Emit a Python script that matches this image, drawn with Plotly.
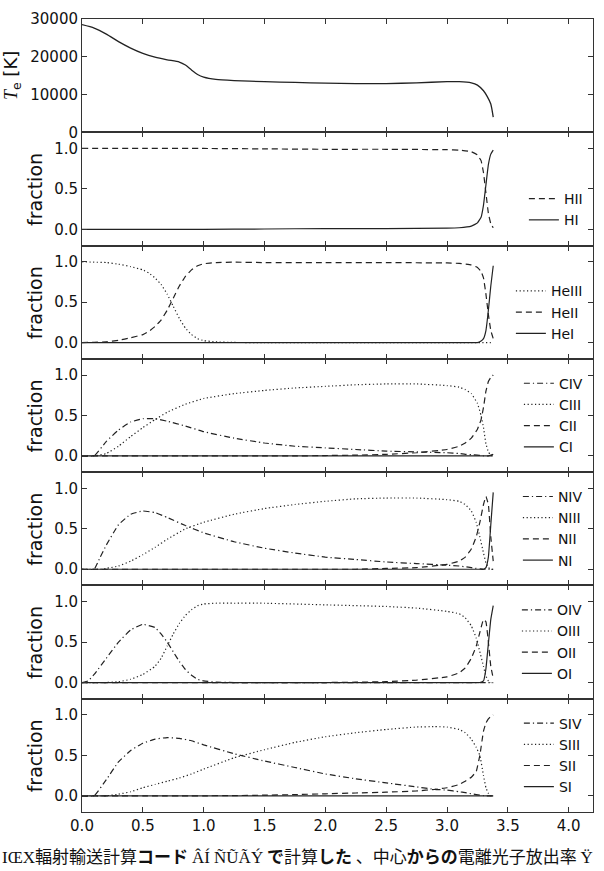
import plotly.graph_objects as go
from plotly.subplots import make_subplots

# ---------------- data ----------------
x_T = [0, 0.1, 0.2, 0.3, 0.4, 0.5, 0.6, 0.7, 0.8, 0.85, 0.9, 0.95, 1.0, 1.1, 1.25, 1.5, 1.75,
       2.0, 2.25, 2.5, 2.75, 3.0, 3.1, 3.2, 3.25, 3.3, 3.33, 3.36, 3.38]
T_e = [28500, 27600, 26000, 24000, 22300, 20900, 19900, 19200, 18600, 17800, 16500, 15300, 14600,
       14000, 13700, 13400, 13200, 13000, 12900, 12900, 13100, 13400, 13400, 13100, 12500, 11000,
       9500, 7500, 4000]

x_H = [0, 0.5, 1.0, 1.5, 2.0, 2.5, 3.0, 3.1, 3.2, 3.25, 3.28, 3.3, 3.32, 3.34, 3.36, 3.38]
HII = [1.0, 1.0, 1.0, 0.995, 0.99, 0.99, 0.985, 0.98, 0.96, 0.92, 0.85, 0.7, 0.45, 0.2, 0.07, 0.02]
HI = [0, 0, 0, 0.005, 0.01, 0.01, 0.015, 0.02, 0.04, 0.08, 0.15, 0.3, 0.55, 0.8, 0.93, 0.98]

x_He = [0, 0.1, 0.2, 0.3, 0.4, 0.5, 0.55, 0.6, 0.65, 0.7, 0.75, 0.8, 0.85, 0.9, 0.95, 1.0, 1.1,
        1.25, 1.5, 2.0, 2.5, 3.0, 3.1, 3.2, 3.25, 3.28, 3.3, 3.32, 3.34, 3.36, 3.38]
HeIII = [1.0, 0.995, 0.99, 0.97, 0.94, 0.9, 0.86, 0.8, 0.72, 0.6, 0.45, 0.3, 0.18, 0.1, 0.05, 0.025,
         0.01, 0.003, 0, 0, 0, 0, 0, 0, 0, 0, 0, 0, 0, 0, 0]
HeII = [0.0, 0.005, 0.01, 0.03, 0.06, 0.1, 0.14, 0.2, 0.28, 0.4, 0.55, 0.7, 0.82, 0.9, 0.95, 0.975,
        0.99, 0.995, 0.99, 0.99, 0.99, 0.985, 0.98, 0.96, 0.93, 0.88, 0.8, 0.6, 0.35, 0.15, 0.05]
HeI = [0, 0, 0, 0, 0, 0, 0, 0, 0, 0, 0, 0, 0, 0, 0, 0, 0, 0, 0, 0, 0, 0, 0, 0, 0, 0.02, 0.05,
       0.15, 0.4, 0.7, 0.95]

x_C = [0, 0.1, 0.2, 0.3, 0.4, 0.5, 0.6, 0.7, 0.85, 1.0, 1.25, 1.5, 1.75, 2.0, 2.25, 2.5, 2.75,
       3.0, 3.1, 3.15, 3.2, 3.25, 3.28, 3.3, 3.32, 3.34, 3.36, 3.38]
CIV = [0, 0.0, 0.18, 0.32, 0.42, 0.46, 0.46, 0.43, 0.37, 0.3, 0.22, 0.16, 0.12, 0.1, 0.08, 0.06,
       0.05, 0.04, 0.03, 0.02, 0.015, 0.01, 0.005, 0.002, 0, 0, 0, 0]
CIII = [0, 0, 0.03, 0.12, 0.24, 0.35, 0.45, 0.54, 0.64, 0.71, 0.77, 0.81, 0.84, 0.86, 0.88, 0.89,
        0.89, 0.87, 0.85, 0.82, 0.77, 0.65, 0.5, 0.35, 0.15, 0.05, 0.01, 0]
CII = [0, 0, 0, 0, 0, 0, 0, 0, 0, 0, 0, 0, 0, 0.005, 0.01, 0.02, 0.04, 0.08, 0.12, 0.16, 0.22,
       0.33, 0.45, 0.6, 0.8, 0.92, 0.97, 1.0]
CI = [0, 0, 0, 0, 0, 0, 0, 0, 0, 0, 0, 0, 0, 0, 0, 0, 0, 0, 0, 0, 0, 0, 0, 0, 0, 0, 0.01, 0.02]

x_N = [0, 0.1, 0.15, 0.2, 0.3, 0.4, 0.5, 0.6, 0.7, 0.85, 1.0, 1.25, 1.5, 1.75, 2.0, 2.25, 2.5,
       2.75, 3.0, 3.1, 3.15, 3.2, 3.24, 3.27, 3.3, 3.32, 3.34, 3.36, 3.38]
NIV = [0, 0.0, 0.15, 0.3, 0.55, 0.68, 0.72, 0.7, 0.64, 0.54, 0.45, 0.34, 0.26, 0.2, 0.15, 0.12,
       0.09, 0.07, 0.05, 0.04, 0.03, 0.02, 0.01, 0.005, 0, 0, 0, 0, 0]
NIII = [0, 0, 0, 0.01, 0.04, 0.1, 0.18, 0.27, 0.37, 0.5, 0.58, 0.68, 0.75, 0.8, 0.84, 0.87, 0.88,
        0.88, 0.86, 0.84, 0.8, 0.72, 0.58, 0.4, 0.2, 0.08, 0.02, 0, 0]
NII = [0, 0, 0, 0, 0, 0, 0, 0, 0, 0, 0, 0, 0, 0, 0, 0, 0.01, 0.02, 0.06, 0.1, 0.15, 0.25, 0.4,
       0.58, 0.8, 0.9, 0.8, 0.4, 0.1]
NI = [0, 0, 0, 0, 0, 0, 0, 0, 0, 0, 0, 0, 0, 0, 0, 0, 0, 0, 0, 0, 0, 0, 0, 0, 0, 0.02, 0.15,
      0.55, 0.95]

x_O = [0, 0.05, 0.1, 0.2, 0.3, 0.4, 0.5, 0.6, 0.65, 0.7, 0.75, 0.8, 0.85, 0.9, 0.95, 1.0, 1.1,
       1.25, 1.5, 2.0, 2.5, 2.75, 3.0, 3.1, 3.15, 3.2, 3.24, 3.27, 3.3, 3.32, 3.34, 3.36, 3.38]
OIV = [0, 0.02, 0.1, 0.3, 0.5, 0.65, 0.72, 0.68, 0.6, 0.5, 0.38, 0.26, 0.16, 0.09, 0.04, 0.02,
       0.005, 0, 0, 0, 0, 0, 0, 0, 0, 0, 0, 0, 0, 0, 0, 0, 0]
OIII = [0, 0, 0, 0, 0.01, 0.04, 0.1, 0.2, 0.3, 0.45, 0.6, 0.73, 0.83, 0.9, 0.95, 0.97, 0.98, 0.98,
        0.98, 0.96, 0.94, 0.92, 0.88, 0.85, 0.8, 0.7, 0.55, 0.38, 0.2, 0.08, 0.02, 0, 0]
OII = [0, 0, 0, 0, 0, 0, 0, 0, 0, 0, 0, 0, 0, 0, 0, 0, 0, 0, 0, 0, 0.01, 0.03, 0.07, 0.12, 0.18,
       0.3, 0.45, 0.62, 0.78, 0.75, 0.5, 0.2, 0.05]
OI = [0, 0, 0, 0, 0, 0, 0, 0, 0, 0, 0, 0, 0, 0, 0, 0, 0, 0, 0, 0, 0, 0, 0, 0, 0, 0, 0, 0, 0.02,
      0.17, 0.48, 0.78, 0.95]

x_S = [0, 0.1, 0.2, 0.3, 0.4, 0.5, 0.6, 0.7, 0.8, 0.9, 1.0, 1.25, 1.5, 1.75, 2.0, 2.25, 2.5, 2.75,
       2.9, 3.0, 3.1, 3.15, 3.2, 3.24, 3.27, 3.3, 3.32, 3.34, 3.36, 3.38]
SIV = [0, 0.0, 0.2, 0.42, 0.56, 0.65, 0.7, 0.72, 0.71, 0.68, 0.63, 0.52, 0.43, 0.35, 0.27, 0.21,
       0.16, 0.11, 0.08, 0.07, 0.05, 0.04, 0.025, 0.015, 0.008, 0.003, 0, 0, 0, 0]
SIII = [0, 0, 0.0, 0.02, 0.05, 0.1, 0.14, 0.18, 0.22, 0.27, 0.33, 0.47, 0.57, 0.66, 0.73, 0.78,
        0.82, 0.85, 0.855, 0.85, 0.82, 0.78, 0.7, 0.6, 0.5, 0.25, 0.1, 0.03, 0.0, 0]
SII = [0, 0, 0, 0, 0, 0, 0, 0, 0, 0, 0, 0.003, 0.008, 0.015, 0.025, 0.035, 0.045, 0.06, 0.08, 0.1,
       0.14, 0.18, 0.23, 0.3, 0.5, 0.8, 0.9, 0.95, 0.98, 1.0]
SI = [0] * 30

x_ticks = [0.0, 0.5, 1.0, 1.5, 2.0, 2.5, 3.0, 3.5, 4.0]
x_ticktext = ["0.0", "0.5", "1.0", "1.5", "2.0", "2.5", "3.0", "3.5", "4.0"]
T_ticks = [0, 10000, 20000, 30000]
T_ticktext = ["0", "10000", "20000", "30000"]
frac_ticks = [0.0, 0.5, 1.0]
frac_ticktext = ["0.0", "0.5", "1.0"]

panels = [
    (x_H, [("HI", HI, "solid"), ("HII", HII, "dash")]),
    (x_He, [("HeI", HeI, "solid"), ("HeII", HeII, "dash"), ("HeIII", HeIII, "dot")]),
    (x_C, [("CI", CI, "solid"), ("CII", CII, "dash"), ("CIII", CIII, "dot"), ("CIV", CIV, "dashdot")]),
    (x_N, [("NI", NI, "solid"), ("NII", NII, "dash"), ("NIII", NIII, "dot"), ("NIV", NIV, "dashdot")]),
    (x_O, [("OI", OI, "solid"), ("OII", OII, "dash"), ("OIII", OIII, "dot"), ("OIV", OIV, "dashdot")]),
    (x_S, [("SI", SI, "solid"), ("SII", SII, "dash"), ("SIII", SIII, "dot"), ("SIV", SIV, "dashdot")]),
]

dash_map = {"solid": "solid", "dash": "6px,4px", "dot": "1.2px,2.5px", "dashdot": "6px,3px,1.2px,3px"}
LINE = "#222222"

# ---------------- figure ----------------
fig = make_subplots(rows=7, cols=1, shared_xaxes=True, vertical_spacing=0)

fig.add_trace(go.Scatter(x=x_T, y=T_e, mode="lines", showlegend=False,
                         line=dict(color=LINE, width=1.3, shape="spline", smoothing=0.6)),
              row=1, col=1)

n = 7
for i, (xs, series) in enumerate(panels):
    row = i + 2
    lname = "legend%d" % row
    for name, ys, style in series:
        fig.add_trace(go.Scatter(x=xs, y=ys, mode="lines", name=name, legend=lname,
                                 line=dict(color=LINE, width=1.2, dash=dash_map[style],
                                           shape="spline", smoothing=0.3)),
                      row=row, col=1)
    dom_bottom = 1 - row / n
    fig.update_layout({lname: dict(x=0.99, xanchor="right", y=dom_bottom + 0.012, yanchor="bottom",
                                   bgcolor="rgba(0,0,0,0)", borderwidth=0,
                                   traceorder="reversed", tracegroupgap=0, itemwidth=30,
                                   font=dict(family="DejaVu Sans", size=14, color="#111"))})

axis_common = dict(showline=True, linecolor="#333", linewidth=1, mirror="allticks",
                   ticks="inside", ticklen=5, tickcolor="#333", showgrid=False, zeroline=False,
                   tickfont=dict(family="DejaVu Sans", size=15, color="#111"))

for r in range(1, 8):
    fig.update_xaxes(range=[0, 4.2], tickvals=x_ticks, ticktext=x_ticktext, row=r, col=1,
                     **axis_common)
    if r == 1:
        fig.update_yaxes(range=[0, 30000], tickvals=T_ticks, ticktext=T_ticktext, row=r, col=1,
                         **axis_common)
    else:
        fig.update_yaxes(range=[-0.2, 1.2], tickvals=frac_ticks, ticktext=frac_ticktext,
                         row=r, col=1, **axis_common)

# y-axis labels
annotations = []
annotations.append(dict(text='<span style="font-family:Liberation Serif"><i>T</i></span><sub>e</sub> [K]',
                        xref="paper", yref="paper",
                        x=-0.138, y=1 - 0.5 / n, xanchor="center", yanchor="middle",
                        textangle=-90, showarrow=False,
                        font=dict(family="DejaVu Sans", size=18, color="#111")))
for r in range(2, 8):
    annotations.append(dict(text="fraction", xref="paper", yref="paper",
                            x=-0.092, y=1 - (r - 0.5) / n, xanchor="center", yanchor="middle",
                            textangle=-90, showarrow=False,
                            font=dict(family="DejaVu Sans", size=19, color="#111")))

serif = '<span style="font-family:Liberation Serif">%s</span>'
caption = (serif % "IŒX" + "輻射輸送計算<b>コード</b> " + serif % "ÂÍ ÑŨÃÝ" +
           " <b>で</b>計算<b>した</b> 、中心<b>からの</b>電離光子放出率 " + serif % "Ÿ")
annotations.append(dict(text=caption, xref="paper", yref="paper", x=-0.16, y=-0.055,
                        xanchor="left", yanchor="middle", showarrow=False,
                        font=dict(family="Noto Sans CJK JP", size=17, color="#111")))

fig.update_layout(width=604, height=871, margin=dict(l=82, r=10, t=13, b=59),
                  paper_bgcolor="white", plot_bgcolor="white", annotations=annotations,
                  font=dict(family="DejaVu Sans", color="#111"))

fig.write_html("out.html")
